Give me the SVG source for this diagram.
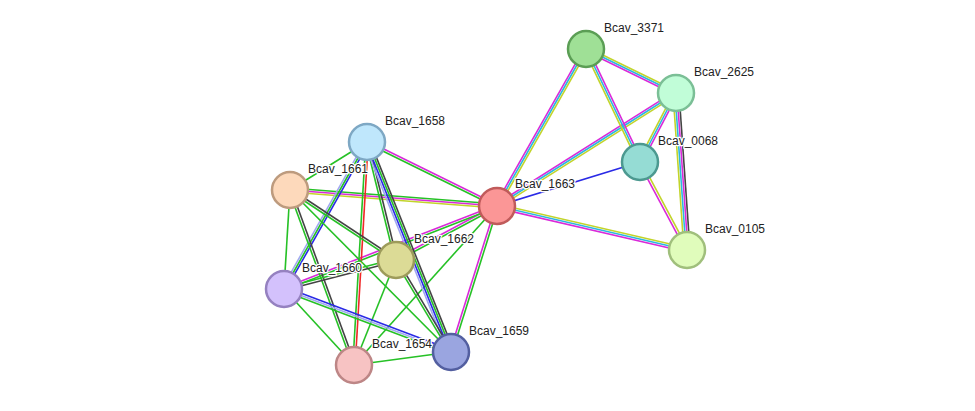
<svg xmlns="http://www.w3.org/2000/svg" width="975" height="411" viewBox="0 0 975 411">
<style>
line{stroke-width:1.6;fill:none}
.g{stroke:#26c126}.m{stroke:#d92ad9}.c{stroke:#2bb7e0}.y{stroke:#c2d42a}.b{stroke:#2a2ae6}.k{stroke:#444}.r{stroke:#f02828}.l{stroke:#a0a8f0}
circle{stroke-width:2.5}
text{font-family:"Liberation Sans",Arial,sans-serif;font-size:12px;fill:#222;stroke:#fff;stroke-width:2.5px;paint-order:stroke;stroke-linejoin:round}
</style>
<rect width="975" height="411" fill="#fff"/>
<g id="edges">
<line class="m" x1="497" y1="206" x2="586" y2="49" transform="translate(-1.74,-0.98)"/><line class="c" x1="497" y1="206" x2="586" y2="49"/><line class="y" x1="497" y1="206" x2="586" y2="49" transform="translate(1.74,0.98)"/>
<line class="m" x1="497" y1="206" x2="676" y2="93" transform="translate(-1.06,-1.68)"/><line class="c" x1="497" y1="206" x2="676" y2="93"/><line class="y" x1="497" y1="206" x2="676" y2="93" transform="translate(1.06,1.68)"/>
<line class="b" x1="497" y1="206" x2="640" y2="162"/>
<line class="y" x1="497" y1="206" x2="687" y2="250" transform="translate(0.46,-1.96)"/><line class="c" x1="497" y1="206" x2="687" y2="250"/><line class="m" x1="497" y1="206" x2="687" y2="250" transform="translate(-0.46,1.96)"/>
<line class="y" x1="586" y1="49" x2="676" y2="93" transform="translate(0.88,-1.8)"/><line class="c" x1="586" y1="49" x2="676" y2="93"/><line class="m" x1="586" y1="49" x2="676" y2="93" transform="translate(-0.88,1.8)"/>
<line class="m" x1="586" y1="49" x2="640" y2="162" transform="translate(1.8,-0.86)"/><line class="c" x1="586" y1="49" x2="640" y2="162"/><line class="y" x1="586" y1="49" x2="640" y2="162" transform="translate(-1.8,0.86)"/>
<line class="m" x1="676" y1="93" x2="640" y2="162" transform="translate(1.76,0.92)"/><line class="c" x1="676" y1="93" x2="640" y2="162"/><line class="y" x1="676" y1="93" x2="640" y2="162" transform="translate(-1.76,-0.92)"/>
<line class="k" x1="676" y1="93" x2="687" y2="250" transform="translate(3,-0.2)"/><line class="m" x1="676" y1="93" x2="687" y2="250" transform="translate(1,0)"/><line class="c" x1="676" y1="93" x2="687" y2="250" transform="translate(-1,0)"/><line class="y" x1="676" y1="93" x2="687" y2="250" transform="translate(-3,0.2)"/>
<line class="y" x1="640" y1="162" x2="687" y2="250" transform="translate(1.06,-0.56)"/><line class="m" x1="640" y1="162" x2="687" y2="250" transform="translate(-1.06,0.56)"/>
<line class="m" x1="497" y1="206" x2="367" y2="142" transform="translate(0.53,-1.08)"/><line class="g" x1="497" y1="206" x2="367" y2="142" transform="translate(-0.53,1.08)"/>
<line class="g" x1="497" y1="206" x2="290" y2="190" transform="translate(0.16,-2)"/><line class="m" x1="497" y1="206" x2="290" y2="190"/><line class="y" x1="497" y1="206" x2="290" y2="190" transform="translate(-0.16,2)"/>
<line class="g" x1="497" y1="206" x2="396" y2="260" transform="translate(0.56,1.06)"/><line class="m" x1="497" y1="206" x2="396" y2="260" transform="translate(-0.56,-1.06)"/>
<line class="g" x1="497" y1="206" x2="284" y2="289" transform="translate(0.43,1.12)"/><line class="m" x1="497" y1="206" x2="284" y2="289" transform="translate(-0.43,-1.12)"/>
<line class="g" x1="497" y1="206" x2="451" y2="352" transform="translate(1.14,0.36)"/><line class="m" x1="497" y1="206" x2="451" y2="352" transform="translate(-1.14,-0.36)"/>
<line class="g" x1="497" y1="206" x2="354" y2="365"/>
<line class="g" x1="367" y1="142" x2="290" y2="190"/>
<line class="b" x1="367" y1="142" x2="284" y2="289" transform="translate(1.74,0.98)"/><line class="g" x1="367" y1="142" x2="284" y2="289"/><line class="l" x1="367" y1="142" x2="284" y2="289" transform="translate(-1.74,-0.98)"/>
<line class="k" x1="367" y1="142" x2="396" y2="260" transform="translate(1.16,-0.29)"/><line class="g" x1="367" y1="142" x2="396" y2="260" transform="translate(-1.16,0.29)"/>
<line class="k" x1="367" y1="142" x2="451" y2="352" transform="translate(2.79,-1.11)"/><line class="g" x1="367" y1="142" x2="451" y2="352" transform="translate(0.93,-0.37)"/><line class="b" x1="367" y1="142" x2="451" y2="352" transform="translate(-0.93,0.37)"/><line class="l" x1="367" y1="142" x2="451" y2="352" transform="translate(-2.79,1.11)"/>
<line class="r" x1="367" y1="142" x2="354" y2="365" transform="translate(1.2,0)"/><line class="g" x1="367" y1="142" x2="354" y2="365" transform="translate(-1.2,0)"/>
<line class="k" x1="290" y1="190" x2="396" y2="260" transform="translate(0.66,-1)"/><line class="g" x1="290" y1="190" x2="396" y2="260" transform="translate(-0.66,1)"/>
<line class="g" x1="290" y1="190" x2="284" y2="289"/>
<line class="k" x1="290" y1="190" x2="354" y2="365" transform="translate(1.13,-0.41)"/><line class="g" x1="290" y1="190" x2="354" y2="365" transform="translate(-1.13,0.41)"/>
<line class="g" x1="290" y1="190" x2="451" y2="352"/>
<line class="k" x1="396" y1="260" x2="284" y2="289" transform="translate(0.3,1.16)"/><line class="g" x1="396" y1="260" x2="284" y2="289" transform="translate(-0.3,-1.16)"/>
<line class="k" x1="396" y1="260" x2="451" y2="352" transform="translate(1.03,-0.61)"/><line class="g" x1="396" y1="260" x2="451" y2="352" transform="translate(-1.03,0.61)"/>
<line class="g" x1="396" y1="260" x2="354" y2="365"/>
<line class="b" x1="284" y1="289" x2="451" y2="352" transform="translate(0.7,-1.88)"/><line class="l" x1="284" y1="289" x2="451" y2="352"/><line class="g" x1="284" y1="289" x2="451" y2="352" transform="translate(-0.7,1.88)"/>
<line class="g" x1="284" y1="289" x2="354" y2="365"/>
<line class="g" x1="354" y1="365" x2="451" y2="352"/>
</g>
<g id="n1663"><circle cx="497" cy="206" r="18" fill="#fb9696" stroke="#c05b5b"/><text x="515" y="188">Bcav_1663</text></g>
<g id="n3371"><circle cx="586" cy="49" r="18" fill="#9fe096" stroke="#5b9e55"/><text x="604" y="32">Bcav_3371</text></g>
<g id="n2625"><circle cx="676" cy="93" r="18" fill="#c1fdd8" stroke="#7bbf96"/><text x="694" y="76">Bcav_2625</text></g>
<g id="n0068"><circle cx="640" cy="162" r="18" fill="#95dcd4" stroke="#4c9990"/><text x="658" y="145">Bcav_0068</text></g>
<g id="n0105"><circle cx="687" cy="250" r="18" fill="#e0fcbb" stroke="#a0bf7c"/><text x="705" y="233">Bcav_0105</text></g>
<g id="n1658"><circle cx="367" cy="142" r="18" fill="#bfe7fc" stroke="#7ea8c4"/><text x="385" y="125">Bcav_1658</text></g>
<g id="n1661"><circle cx="290" cy="190" r="18" fill="#fdd9bb" stroke="#bd9b7e"/><text x="308" y="173">Bcav_1661</text></g>
<g id="n1662"><circle cx="396" cy="260" r="18" fill="#dcdb96" stroke="#9d9b5b"/><text x="414" y="243">Bcav_1662</text></g>
<g id="n1660"><circle cx="284" cy="289" r="18" fill="#d3c1fc" stroke="#9581c0"/><text x="302" y="272">Bcav_1660</text></g>
<g id="n1654"><circle cx="354" cy="365" r="18" fill="#f7c3c3" stroke="#bd8686"/><text x="372" y="348">Bcav_1654</text></g>
<g id="n1659"><circle cx="451" cy="352" r="18" fill="#9aa5e0" stroke="#535fa0"/><text x="469" y="335">Bcav_1659</text></g>
</svg>
